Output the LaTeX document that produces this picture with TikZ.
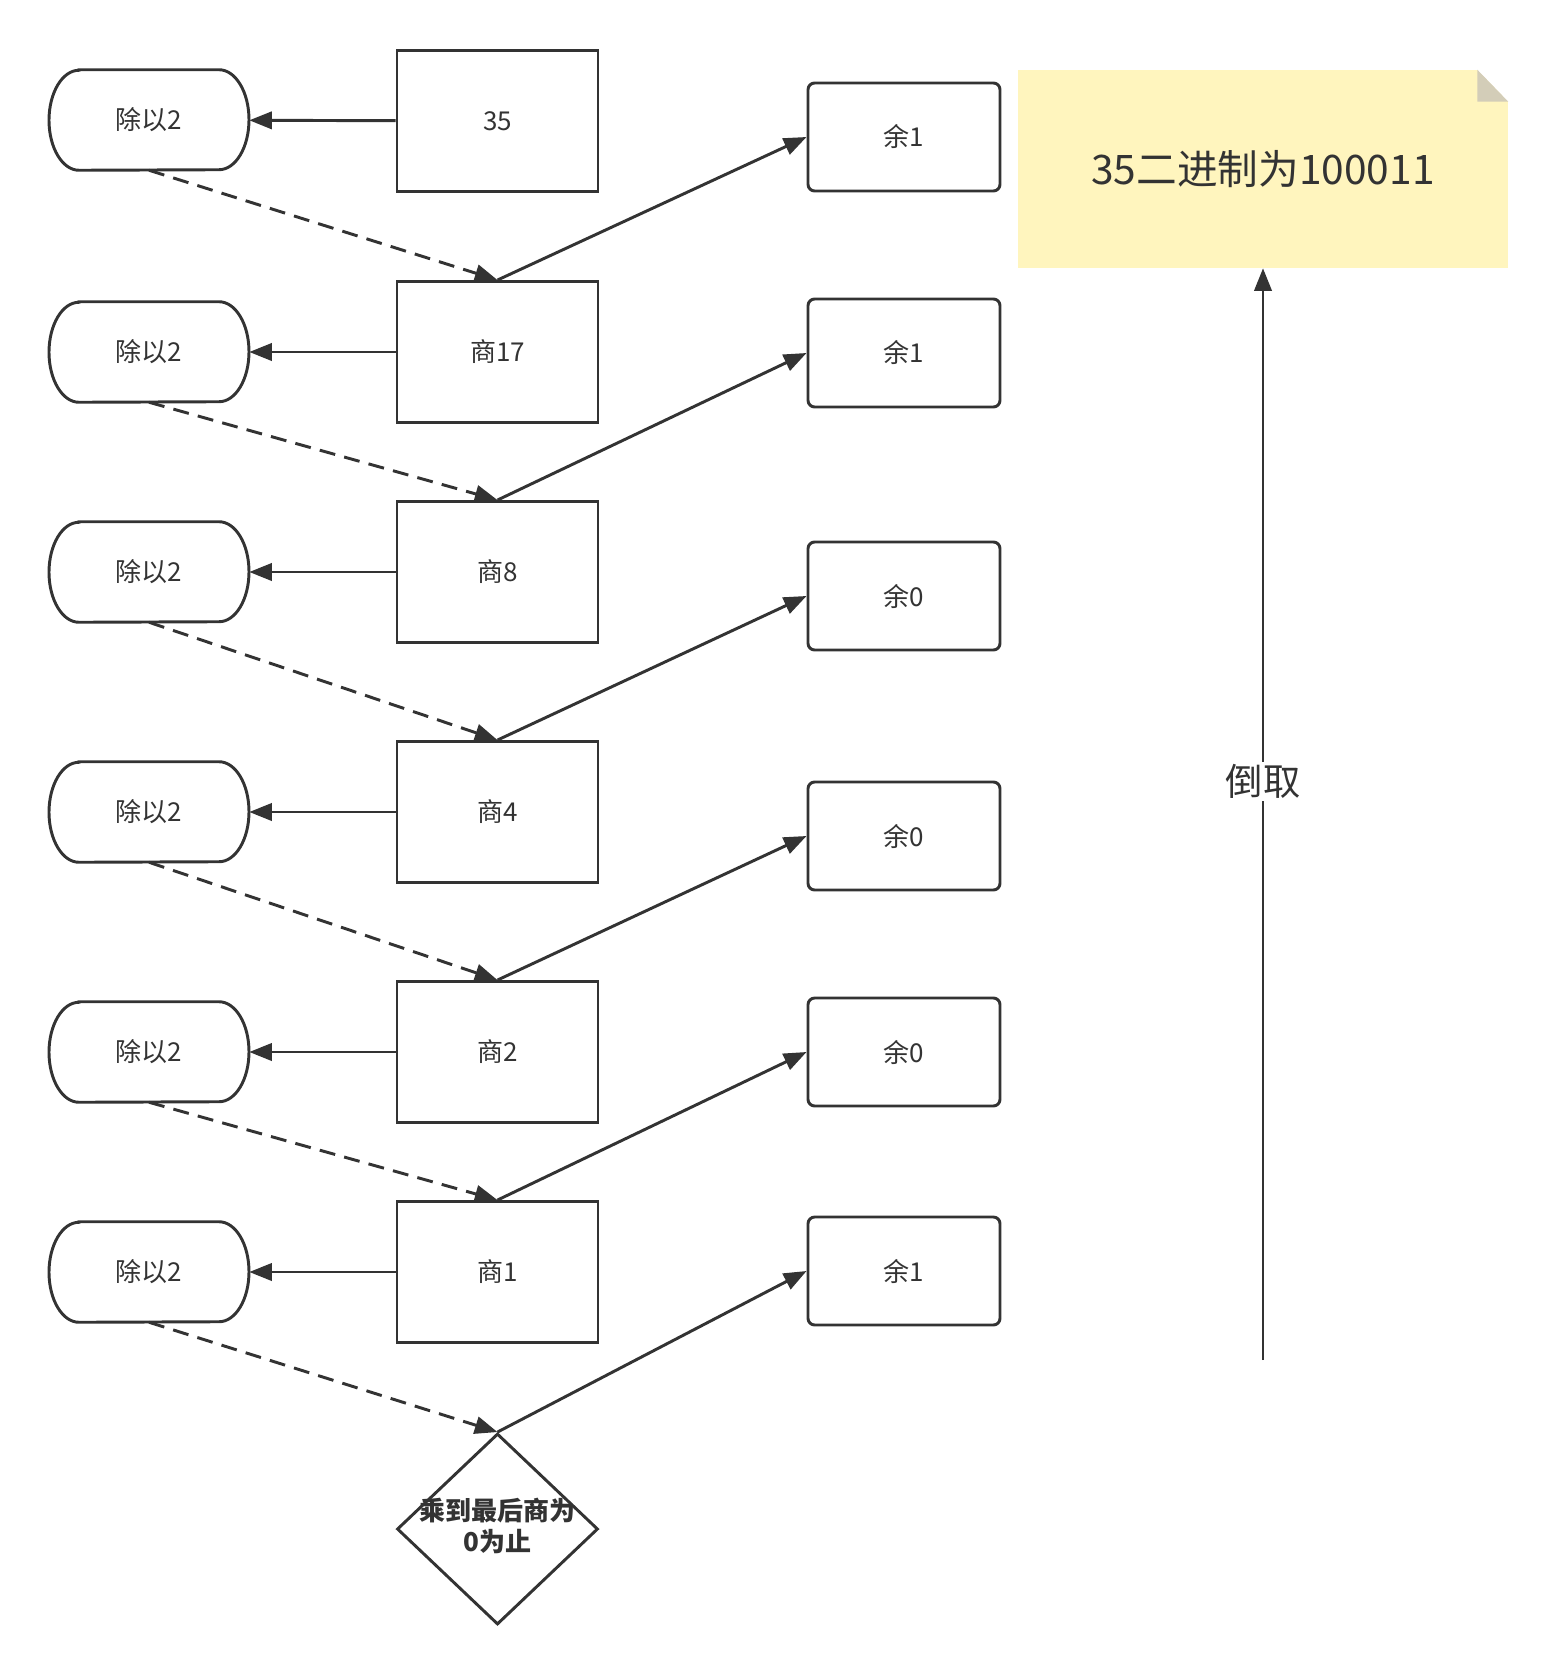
\documentclass[tikz,border=0pt]{standalone}
\usepackage{fontspec}
\setmainfont{Noto Sans CJK SC}
\usetikzlibrary{arrows.meta, shapes.geometric}

\definecolor{ink}{HTML}{333333}
\definecolor{notefill}{HTML}{FFF5BE}
\definecolor{foldfill}{HTML}{D3CDB8}

\tikzset{
  >={Triangle[length=17pt,width=13pt]},
  every node/.style={text=ink, font=\fontsize{19.5}{22.5}\selectfont},
  edge/.style={draw=ink, line width=2.2pt},
  dashedge/.style={edge, dash pattern=on 12pt off 7pt},
  stadium/.style={minimum width=150pt, minimum height=75pt,
    append after command={\pgfextra{
      \draw[edge] ([xshift=-52.5pt]\tikzlastnode.north) -- ([xshift=52.5pt]\tikzlastnode.north)
        arc[start angle=90, end angle=-90, x radius=22.5pt, y radius=37.5pt]
        -- ([xshift=-52.5pt]\tikzlastnode.south)
        arc[start angle=270, end angle=90, x radius=22.5pt, y radius=37.5pt] -- cycle;
    }}},
  quot/.style={draw=ink, line width=2.2pt, minimum width=150.75pt, minimum height=105.75pt},
  rest/.style={draw=ink, line width=2.2pt, rounded corners=5pt, minimum width=144pt, minimum height=81pt},
  stopbox/.style={diamond, draw=ink, line width=2.2pt, inner sep=0pt,
    minimum width=150.75pt, minimum height=143.25pt, font=\fontsize{19.5}{22.5}\selectfont\bfseries},
  notebox/.style={fill=notefill, minimum width=367.5pt, minimum height=148.5pt,
    font=\fontsize{30.5}{36}\selectfont}
}

\begin{document}
\begin{tikzpicture}[x=0.75pt, y=-0.75pt]
  \useasboundingbox (0,0) rectangle (1556,1676);

  \begin{scope}
    \node[stadium] (d1) at (149,120) {除以2};
    \node[stadium] (d2) at (149,352) {除以2};
    \node[stadium] (d3) at (149,572) {除以2};
    \node[stadium] (d4) at (149,812) {除以2};
    \node[stadium] (d5) at (149,1052) {除以2};
    \node[stadium] (d6) at (149,1272) {除以2};
  \end{scope}

  \begin{scope}
    \node[quot] (q1) at (497.5,121) {35};
    \node[quot] (q2) at (497.5,352) {商17};
    \node[quot] (q3) at (497.5,572) {商8};
    \node[quot] (q4) at (497.5,812) {商4};
    \node[quot] (q5) at (497.5,1052) {商2};
    \node[quot] (q6) at (497.5,1272) {商1};
    \node[stopbox] (stop) at (497.5,1529)
      {\makebox[0pt]{\begin{tabular}{@{}c@{}}乘到最后商为\\0为止\end{tabular}}};
  \end{scope}

  \begin{scope}
    \node[rest] (r1) at (904,137) {余1};
    \node[rest] (r2) at (904,353) {余1};
    \node[rest] (r3) at (904,596) {余0};
    \node[rest] (r4) at (904,836) {余0};
    \node[rest] (r5) at (904,1052) {余0};
    \node[rest] (r6) at (904,1271) {余1};
  \end{scope}

  \node[notebox] (note) at (1263,169) {35二进制为100011};
  \fill[white] ([xshift=-23.25pt]note.north east) -- (note.north east)
    -- ([yshift=-24pt]note.north east) -- cycle;
  \fill[foldfill] ([xshift=-23.25pt]note.north east) -- ([xshift=-23.25pt,yshift=-24pt]note.north east)
    -- ([yshift=-24pt]note.north east) -- cycle;

  \draw[edge, ->] (q1) -- (d1);
  \draw[edge, ->] (q2) -- (d2);
  \draw[edge, ->] (q3) -- (d3);
  \draw[edge, ->] (q4) -- (d4);
  \draw[edge, ->] (q5) -- (d5);
  \draw[edge, ->] (q6) -- (d6);

  \draw[dashedge, ->] (d1.south) -- (q2.north);
  \draw[dashedge, ->] (d2.south) -- (q3.north);
  \draw[dashedge, ->] (d3.south) -- (q4.north);
  \draw[dashedge, ->] (d4.south) -- (q5.north);
  \draw[dashedge, ->] (d5.south) -- (q6.north);
  \draw[dashedge, ->] (d6.south) -- (stop.north);

  \draw[edge, ->] (q2.north) -- (r1.west);
  \draw[edge, ->] (q3.north) -- (r2.west);
  \draw[edge, ->] (q4.north) -- (r3.west);
  \draw[edge, ->] (q5.north) -- (r4.west);
  \draw[edge, ->] (q6.north) -- (r5.west);
  \draw[edge, ->] (stop.north) -- (r6.west);

  \coordinate (base) at (1263,1360);
  \draw[edge, ->] (base) -- node[pos=0.53, fill=white, inner sep=2pt,
    font=\fontsize{28}{32}\selectfont] (flip) {倒取} (note.south);
\end{tikzpicture}
\end{document}
